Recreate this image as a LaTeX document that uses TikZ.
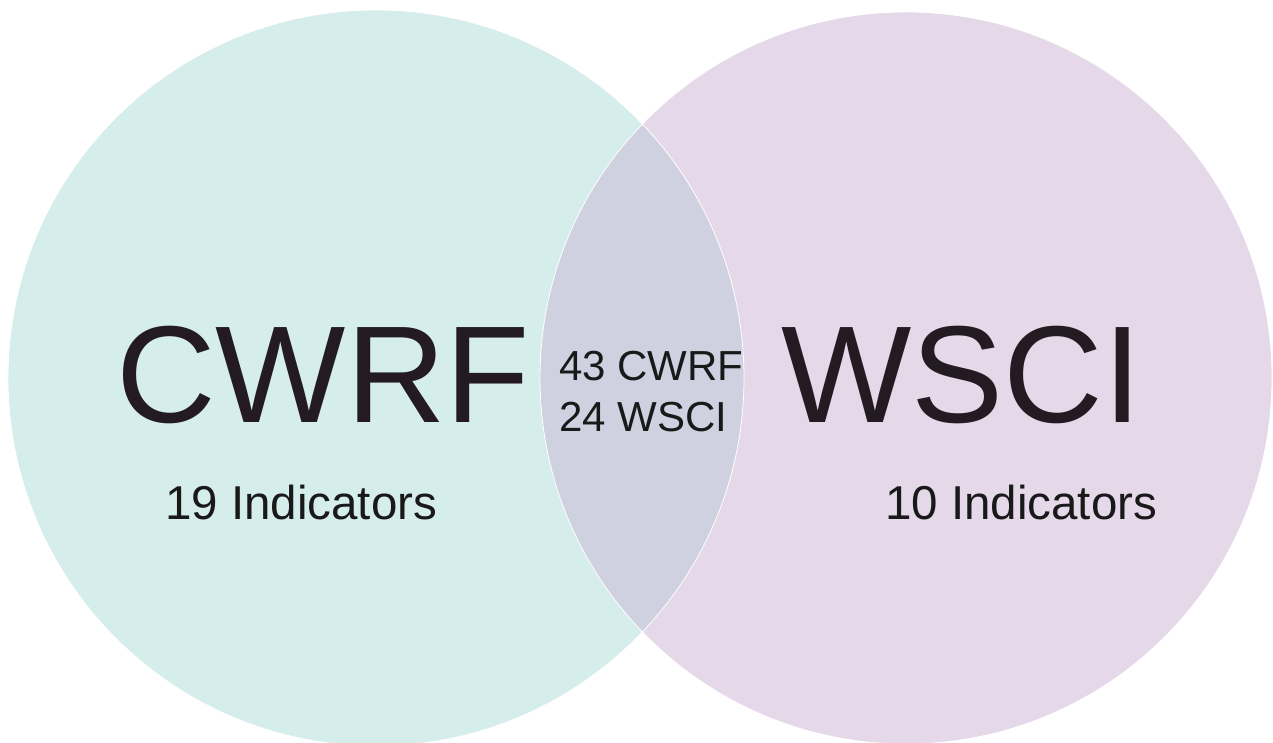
\documentclass[tikz,border=0pt]{standalone}
\usepackage{fontspec}
\setmainfont{Liberation Sans}
\usepackage{xcolor}
\usepackage{tikz}
\usetikzlibrary{positioning}

\definecolor{cwrffill}{HTML}{D5EDEB}
\definecolor{wscifill}{HTML}{E4D8E9}
\definecolor{bothfill}{HTML}{CFD0E0}
\definecolor{inkdark}{HTML}{231A22}

\tikzset{
  setcircle/.style={draw=white,line width=0.8pt},
  bigname/.style={anchor=base west,inner sep=0pt,text=inkdark,font=\fontsize{138}{138}\selectfont},
  countlabel/.style={anchor=base west,inner sep=0pt,text=black!90,font=\fontsize{47.5}{47.5}\selectfont},
  sharedlabel/.style={anchor=base west,inner sep=0pt,text=black!90,font=\fontsize{42}{42}\selectfont}
}

\begin{document}
\begin{tikzpicture}[x=1pt, y=-1pt, line join=round]
  \useasboundingbox (0,0) rectangle (1273,743);
  \coordinate (L) at (376,378);
  \coordinate (R) at (906,378);
  \fill[cwrffill] (L) circle[radius=368pt];
  \fill[wscifill] (R) circle[radius=366pt];
  \begin{scope}
    \clip (L) circle[radius=368pt];
    \fill[bothfill] (R) circle[radius=366pt];
  \end{scope}
  \draw[setcircle] (L) circle[radius=368pt];
  \draw[setcircle] (R) circle[radius=366pt];
  \node[bigname] (cwrf) at (116,422) {CWRF};
  \node[bigname] (wsci) at (781,422) {WSCI};
  \node[countlabel] (cwrfcount) at (165,519) {19 Indicators};
  \node[countlabel] (wscicount) at (885,519) {10 Indicators};
  \node[sharedlabel] (sharedcwrf) at (559,380) {43 CWRF};
  \node[sharedlabel] (sharedwsci) at (559,431) {24 WSCI};
\end{tikzpicture}
\end{document}
